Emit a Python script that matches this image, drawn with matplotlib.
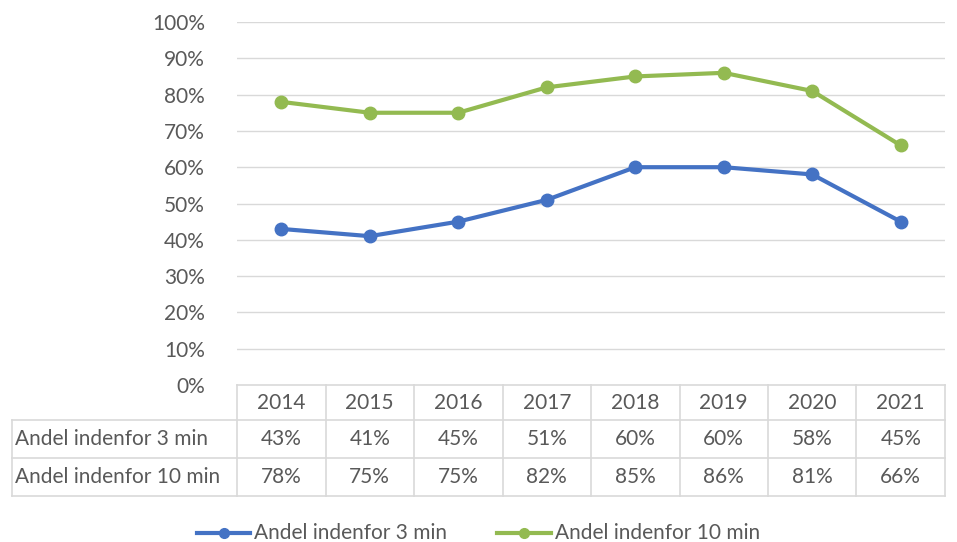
import matplotlib
matplotlib.use("Agg")
import matplotlib.pyplot as plt
from matplotlib.lines import Line2D

years = ["2014", "2015", "2016", "2017", "2018", "2019", "2020", "2021"]
within_3 = [43, 41, 45, 51, 60, 60, 58, 45]
within_10 = [78, 75, 75, 82, 85, 86, 81, 66]
series_names = ["Andel indenfor 3 min", "Andel indenfor 10 min"]
y_ticks = [0, 10, 20, 30, 40, 50, 60, 70, 80, 90, 100]

BLUE = "#4472C4"
GREEN = "#93BA51"
TEXT = "#595959"
GRID = "#D9D9D9"

plt.rcParams["font.family"] = ["Lato", "DejaVu Sans"]
FS = 15

W, H = 957, 542
fig = plt.figure(figsize=(W / 100, H / 100), dpi=100)

def fx(px):
    return px / W

def fy(py):
    return 1 - py / H

# main plot area
ax_l, ax_r, ax_t, ax_b = 237, 945, 22, 385
ax = fig.add_axes([fx(ax_l), fy(ax_b), fx(ax_r - ax_l), fy(ax_t) - fy(ax_b)])
x = list(range(len(years)))
ax.set_xlim(-0.5, len(years) - 0.5)
ax.set_ylim(0, 100)
ax.set_yticks(y_ticks)
ax.set_yticklabels([f"{t}%" for t in y_ticks], color=TEXT, fontsize=FS)
ax.tick_params(axis="y", length=0, pad=23)
ax.set_xticks([])
for s in ax.spines.values():
    s.set_visible(False)
for t in y_ticks[1:]:
    ax.axhline(t, color=GRID, lw=1, zorder=0)

ax.plot(x, within_3, color=BLUE, lw=3, marker="o", ms=9, zorder=3,
        solid_capstyle="round")
ax.plot(x, within_10, color=GREEN, lw=3, marker="o", ms=9, zorder=3,
        solid_capstyle="round")

# data table below the plot, sharing the same column positions
tb_t, tb_b = 385, 496
row_edges = [385, 420, 458, 496]
tab = fig.add_axes([fx(ax_l), fy(tb_b), fx(ax_r - ax_l), fy(tb_t) - fy(tb_b)])
tab.set_xlim(-0.5, len(years) - 0.5)
tab.set_ylim(tb_b, tb_t)
tab.axis("off")
col_w = (ax_r - ax_l) / len(years)
label_left = -0.5 - (ax_l - 12) / col_w

lkw = dict(color=GRID, lw=1.2, clip_on=False)
# horizontal rules
tab.plot([-0.5, len(years) - 0.5], [row_edges[0]] * 2, **lkw)
for ry in row_edges[1:]:
    tab.plot([label_left, len(years) - 0.5], [ry, ry], **lkw)
# vertical rules
tab.plot([label_left, label_left], [row_edges[1], row_edges[3]], **lkw)
for i in range(len(years) + 1):
    tab.plot([i - 0.5, i - 0.5], [row_edges[0], row_edges[3]], **lkw)

row_mid = [(row_edges[i] + row_edges[i + 1]) / 2 for i in range(3)]
for i, yr in enumerate(years):
    tab.text(i, row_mid[0], yr, ha="center", va="center", color=TEXT, fontsize=FS)
    tab.text(i, row_mid[1], f"{within_3[i]}%", ha="center", va="center",
             color=TEXT, fontsize=FS)
    tab.text(i, row_mid[2], f"{within_10[i]}%", ha="center", va="center",
             color=TEXT, fontsize=FS)
label_x = label_left + 3 / col_w
tab.text(label_x, row_mid[1], series_names[0], ha="left", va="center",
         color=TEXT, fontsize=FS, clip_on=False)
tab.text(label_x, row_mid[2], series_names[1], ha="left", va="center",
         color=TEXT, fontsize=FS, clip_on=False)

# legend
leg_y = fy(533)
for (x0, x1, txt_x), col, name in [((197, 250, 254), BLUE, series_names[0]),
                                   ((497, 551, 555), GREEN, series_names[1])]:
    fig.add_artist(Line2D([fx(x0), fx(x1)], [leg_y, leg_y], color=col, lw=3,
                          transform=fig.transFigure))
    fig.add_artist(Line2D([fx((x0 + x1) / 2)], [leg_y], color=col, marker="o",
                          ms=7, transform=fig.transFigure))
    fig.text(fx(txt_x), leg_y, name, ha="left", va="center", color=TEXT,
             fontsize=FS)

fig.savefig("out.png", dpi=100, facecolor="white")
